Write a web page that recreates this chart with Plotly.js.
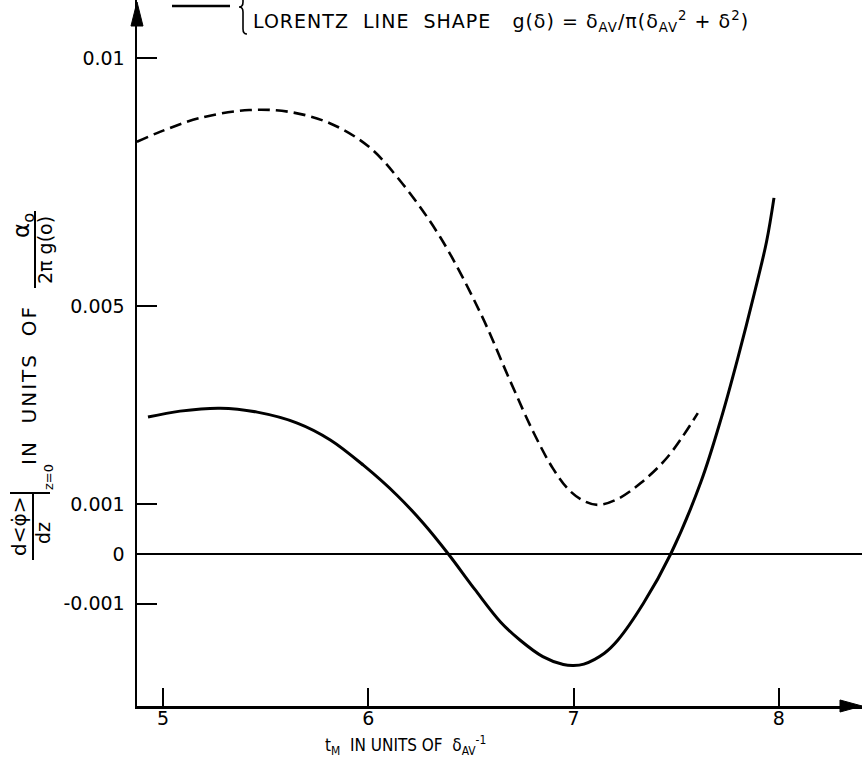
<!DOCTYPE html>
<html>
<head>
<meta charset="utf-8">
<script src="https://cdn.plot.ly/plotly-3.0.1.min.js"></script>
<style>
  html, body { margin: 0; padding: 0; background: #fff; }
  #chart { width: 862px; height: 759px; }
  /* wide drafting-style lettering for the key and the vertical caption */
  #chart .annotation[data-index="0"] .annotation-text { letter-spacing: 1px; }
  #chart .annotation[data-index="5"] .annotation-text { letter-spacing: 2px; }
</style>
</head>
<body>
<div id="chart"></div>
<script>
// Lorentz line shape: dashed and solid response curves vs t_M
const dashedT = [4.873, 4.985, 5.18, 5.42, 5.62, 5.815, 6.0, 6.156, 6.35, 6.546, 6.693, 6.805, 6.9, 6.98, 7.05, 7.12, 7.215, 7.327, 7.459, 7.605];
const dashedV = [0.00831, 0.00851, 0.00879, 0.00895, 0.00891, 0.00868, 0.00822, 0.00752, 0.00639, 0.00486, 0.00347, 0.00245, 0.00172, 0.00128, 0.00107, 0.00099, 0.00111, 0.00143, 0.00196, 0.00284];

const solidT = [4.927, 5.083, 5.278, 5.459, 5.654, 5.815, 5.976, 6.141, 6.268, 6.39, 6.52, 6.644, 6.74, 6.85, 6.95, 7.0, 7.05, 7.15, 7.215, 7.341, 7.473, 7.62, 7.72, 7.8, 7.88, 7.94, 7.976];
const solidV = [0.00276, 0.00288, 0.00294, 0.00286, 0.00264, 0.0023, 0.00179, 0.00118, 0.00062, 0.0, -0.00072, -0.00137, -0.00174, -0.00207, -0.00223, -0.00225, -0.00222, -0.002, -0.00174, -0.00099, 0.0, 0.00145, 0.00275, 0.00395, 0.00525, 0.0063, 0.00718];

const xTickVals = [5, 6, 7, 8];
const xTickText = ['5', '6', '7', '8'];
const yTickVals = [0.01, 0.005, 0.001, 0, -0.001];
const yTickText = ['0.01', '0.005', '0.001', '0', '-0.001'];

// plot-area geometry (pixels)
const W = 862, H = 759;
const M = { l: 137, r: 0, t: 0, b: 53 };
const PW = W - M.l - M.r, PH = H - M.t - M.b;
const px = x => (x - M.l) / PW;
const py = y => (M.t + PH - y) / PH;
function pathPx(cmds) {
  // cmds: [letter, x, y, x, y ...] in page pixels -> paper-coordinate path
  return cmds.map(c => {
    const out = [c[0]];
    for (let i = 1; i < c.length; i += 2) out.push(px(c[i]).toFixed(5) + ',' + py(c[i + 1]).toFixed(5));
    return out.join(' ');
  }).join(' ');
}

const FONT = 'DejaVu Sans, Liberation Sans, sans-serif';
const NARROW = 'Liberation Sans Narrow, DejaVu Sans Condensed, Liberation Sans, sans-serif';
const ink = '#000';
const S = '\u00A0';

const traces = [
  {
    x: dashedT, y: dashedV, type: 'scatter', mode: 'lines',
    line: { color: ink, width: 2.6, dash: '12px,6px', shape: 'spline', smoothing: 1 },
    hoverinfo: 'skip', showlegend: false
  },
  {
    x: solidT, y: solidV, type: 'scatter', mode: 'lines',
    line: { color: ink, width: 3, shape: 'spline', smoothing: 1 },
    hoverinfo: 'skip', showlegend: false
  }
];

function ann(text, x, y, size, opts) {
  return Object.assign({
    text: text, xref: 'paper', yref: 'paper', x: px(x), y: py(y),
    xanchor: 'center', yanchor: 'middle', showarrow: false,
    font: { family: FONT, size: size, color: ink }
  }, opts || {});
}

// the key text is laid out centred by the renderer; the extra letter spacing
// widens it evenly on both sides, so its anchor sits a little to the right
const annotations = [
  // 0: key text
  ann('LORENTZ' + S + S + 'LINE' + S + S + 'SHAPE' + S + S + S + 'g(δ)' + S + '=' + S + 'δ<sub>AV</sub>/π(δ<sub>AV</sub><sup>2</sup>' + S + '+' + S + 'δ<sup>2</sup>)',
      274, 22, 19, { xanchor: 'left' }),
  // 1: x axis title
  ann('t<sub>M</sub>' + S + S + 'IN' + S + 'UNITS' + S + 'OF' + S + S + 'δ<sub>AV</sub><sup>-1</sup>', 405, 745, 17,
      { font: { family: NARROW, size: 17, color: ink } }),
  // 2-7: y axis title pieces (rotated)
  ann('d&lt;φ̇&gt;', 19, 527, 20, { textangle: -90 }),
  ann('dz', 43, 533, 19, { textangle: -90 }),
  ann('z=0', 48, 477, 13, { textangle: -90 }),
  ann('IN' + S + S + 'UNITS' + S + S + 'OF', 29, 385, 20, { textangle: -90 }),
  ann('α<sub>o</sub>', 23, 226, 23, { textangle: -90 }),
  ann('2π' + S + 'g(o)', 45, 250, 19, { textangle: -90 })
];

const seg = (x0, y0, x1, y1, w) => ({
  type: 'line', xref: 'paper', yref: 'paper',
  x0: px(x0), y0: py(y0), x1: px(x1), y1: py(y1),
  line: { color: ink, width: w }
});

const shapes = [
  // key sample line
  seg(172, 6, 230, 6, 2.5),
  // brace
  {
    type: 'path', xref: 'paper', yref: 'paper',
    path: pathPx([['M', 247, 34], ['Q', 243, 34, 243, 29], ['L', 243, 12], ['Q', 243, 7, 239, 7],
                  ['Q', 243, 7, 243, 2], ['L', 243, -14], ['Q', 243, -19, 247, -19]]),
    line: { color: ink, width: 1.6 }
  },
  // fraction bar and evaluation bar of d<φ>/dz |z=0
  seg(33, 493, 33, 560, 2),
  seg(10, 493, 50, 493, 2),
  // fraction bar of α0 / 2π g(o)
  seg(35, 211, 35, 288, 2),
  // arrowheads on the axes
  {
    type: 'path', xref: 'paper', yref: 'paper',
    path: pathPx([['M', 137, 2], ['L', 131, 26], ['L', 143, 26], ['Z']]),
    fillcolor: ink, line: { color: ink, width: 1 }
  },
  {
    type: 'path', xref: 'paper', yref: 'paper',
    path: pathPx([['M', 862, 706], ['L', 840, 700], ['L', 840, 712], ['Z']]),
    fillcolor: ink, line: { color: ink, width: 1 }
  }
];

const layout = {
  width: W, height: H,
  margin: M,
  paper_bgcolor: '#fff', plot_bgcolor: '#fff',
  showlegend: false,
  xaxis: {
    range: [4.8734, 8.4048], showgrid: false, zeroline: false,
    showline: true, linecolor: ink, linewidth: 2.5,
    ticks: 'inside', ticklen: 18, tickwidth: 2, tickcolor: ink,
    tickvals: xTickVals, ticktext: xTickText,
    ticklabelstandoff: -6,
    tickfont: { family: FONT, size: 19, color: ink }
  },
  yaxis: {
    range: [-0.003065, 0.011169], showgrid: false,
    zeroline: true, zerolinecolor: ink, zerolinewidth: 1.5,
    showline: true, linecolor: ink, linewidth: 2.5,
    ticks: 'inside', ticklen: 20, tickwidth: 2, tickcolor: ink,
    tickvals: yTickVals, ticktext: yTickText,
    ticklabelstandoff: 6,
    tickfont: { family: FONT, size: 19, color: ink }
  },
  annotations: annotations,
  shapes: shapes
};

Plotly.newPlot('chart', traces, layout, { staticPlot: true, displayModeBar: false });
</script>
</body>
</html>
